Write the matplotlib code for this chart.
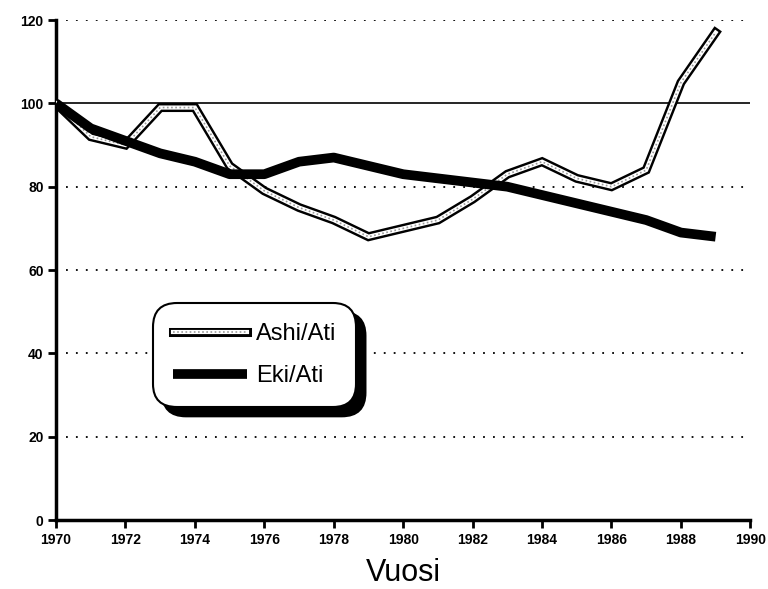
import matplotlib
matplotlib.use("Agg")
import matplotlib.pyplot as plt
from matplotlib.lines import Line2D

years = list(range(1970, 1990))
ashi_ati = [100, 92, 90, 99, 99, 85, 79, 75, 72, 68, 70, 72, 77, 83, 86, 82, 80, 84, 105, 117]
eki_ati = [100, 94, 91, 88, 86, 83, 83, 86, 87, 85, 83, 82, 81, 80, 78, 76, 74, 72, 69, 68]
x_ticks = list(range(1970, 1991, 2))
y_ticks = [0, 20, 40, 60, 80, 100, 120]
grid_levels = [20, 40, 60, 80, 120]

plt.rcParams['font.family'] = ['Liberation Sans', 'DejaVu Sans']

fig = plt.figure(figsize=(7.68, 5.89), dpi=100)
ax = fig.add_axes([0.073, 0.117, 0.904, 0.849])
ax.set_xlim(1970, 1990)
ax.set_ylim(0, 120)

for g in grid_levels:
    ax.axhline(g, xmin=0.015, xmax=0.993, color='black', lw=1.3, ls=(0, (1, 4.5)), zorder=1)
ax.axhline(100, color='black', lw=1.2, zorder=1)

# Ashi/Ati: hollow double line
l1a, = ax.plot(years, ashi_ati, color='black', lw=6.5, solid_joinstyle='miter', zorder=3)
l1b, = ax.plot(years, ashi_ati, color='white', lw=3, solid_joinstyle='miter', zorder=4)
l1c, = ax.plot(years, ashi_ati, color='#999999', lw=1.2, ls=(0, (1, 1.5)), zorder=5)
# Eki/Ati
l2, = ax.plot(years, eki_ati, color='black', lw=7, solid_capstyle='butt', zorder=6)

ax.spines['top'].set_visible(False)
ax.spines['right'].set_visible(False)
ax.spines['left'].set_linewidth(2.5)
ax.spines['bottom'].set_linewidth(2.5)

ax.set_xticks(x_ticks)
ax.set_xticklabels([str(t) for t in x_ticks], fontsize=10, fontweight='bold')
ax.set_yticks(y_ticks)
ax.set_yticklabels([str(t) for t in y_ticks], fontsize=10, fontweight='bold')
ax.tick_params(axis='both', direction='out', length=6, width=2, pad=3)
ax.set_xlabel('Vuosi', fontsize=22, labelpad=8)

leg = ax.legend([(l1a, l1b, l1c), l2], ['Ashi/Ati', 'Eki/Ati'],
                loc='upper left', bbox_to_anchor=(0.140, 0.434),
                fontsize=17, frameon=True, fancybox=True,
                shadow={'color': 'black', 'alpha': 1.0, 'ox': 6.5, 'oy': -6.5},
                borderpad=0.85, labelspacing=0.85, handlelength=3.1, handletextpad=0.4,
                borderaxespad=0)
frame = leg.get_frame()
frame.set_edgecolor('black')
frame.set_linewidth(1.5)
frame.set_facecolor('white')
frame.set_alpha(1)
frame.set_boxstyle('round', pad=0, rounding_size=1.0)
leg.set_zorder(10)

fig.savefig('out.png', dpi=100)
